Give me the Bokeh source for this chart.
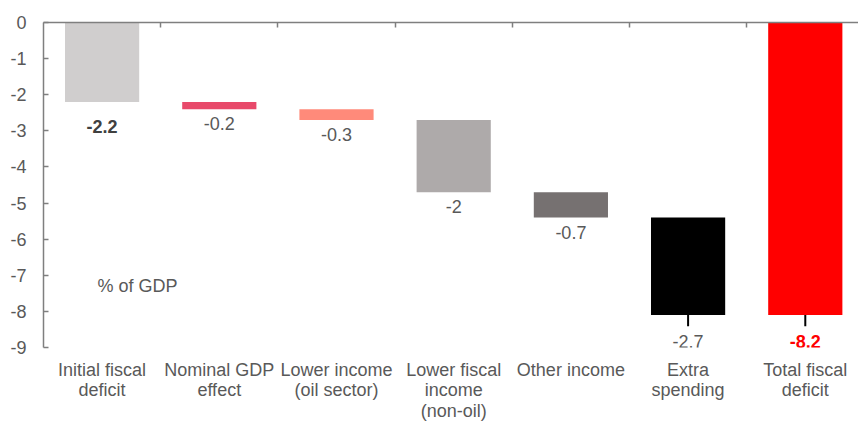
from bokeh.plotting import figure
from bokeh.models import ColumnDataSource, Range1d, FixedTicker, LinearAxis, LabelSet, Label
from bokeh.core.properties import value
from bokeh.embed import file_html
from bokeh.resources import INLINE

# ---- data ----
categories = ["Initial fiscal\ndeficit", "Nominal GDP\neffect", "Lower income\n(oil sector)",
              "Lower fiscal\nincome\n(non-oil)", "Other income", "Extra\nspending", "Total fiscal\ndeficit"]
changes = [-2.2, -0.2, -0.3, -2.0, -0.7, -2.7]          # waterfall steps (% of GDP)
value_labels = ["-2.2", "-0.2", "-0.3", "-2", "-0.7", "-2.7", "-8.2"]
y_ticks = [0, -1, -2, -3, -4, -5, -6, -7, -8, -9]
y_tick_labels = ["0", "-1", "-2", "-3", "-4", "-5", "-6", "-7", "-8", "-9"]
boundary_ticks = [1, 2, 3, 4, 5, 6]

# ---- styles ----
bar_colors = ["#d0cece", "#e8496a", "#ff8a7a", "#aeaaaa", "#767171", "#000000", "#ff0000"]
label_colors = ["#404040", "#595959", "#595959", "#595959", "#595959", "#595959", "#ff0000"]
label_styles = ["bold", "normal", "normal", "normal", "normal", "normal", "bold"]
has_leader = [False, False, False, False, False, True, True]
FONT = "Liberation Sans"
FS = "18px"
TXT = "#595959"
AX = "#7f7f7f"

# ---- derived waterfall geometry ----
tops, bottoms = [], []
running = 0.0
for c in changes:
    tops.append(running)
    running += c
    bottoms.append(running)
tops.append(0.0)
bottoms.append(running)
xs = [i + 0.5 for i in range(len(categories))]
offsets = [-20 if l else (-18 if s == "bold" else -8) for l, s in zip(has_leader, label_styles)]

src = ColumnDataSource(dict(x=xs, top=tops, bottom=bottoms, color=bar_colors,
                            lbl=value_labels, lcol=label_colors, lsty=label_styles,
                            off=offsets))

p = figure(width=858, height=423, x_range=Range1d(0, 6.954), y_range=Range1d(y_ticks[-1], y_ticks[0]),
           output_backend="svg", toolbar_location=None,
           x_axis_location=None, y_axis_location=None,
           min_border_left=43, min_border_right=0, min_border_top=22, min_border_bottom=74)
p.outline_line_color = None
p.xgrid.visible = False
p.ygrid.visible = False

p.vbar(x="x", top="top", bottom="bottom", width=0.633, fill_color="color", line_color=None, source=src)

# leader ticks under the last bars
lx = [x for x, l in zip(xs, has_leader) if l]
ly0 = [b for b, l in zip(bottoms, has_leader) if l]
ly1 = [b - 0.31 for b in ly0]
p.segment(x0=lx, x1=lx, y0=ly0, y1=ly1, line_color="black", line_width=2)

# left value axis
yaxis = LinearAxis(ticker=FixedTicker(ticks=y_ticks))
yaxis.major_label_overrides = {t: s for t, s in zip(y_ticks, y_tick_labels)}
yaxis.major_tick_in = 5
yaxis.major_tick_out = 0
yaxis.minor_tick_line_color = None
yaxis.axis_line_color = AX
yaxis.axis_line_width = 1.5
yaxis.major_tick_line_color = AX
yaxis.major_tick_line_width = 1.5
yaxis.major_label_standoff = 17
yaxis.major_label_text_font = FONT
yaxis.major_label_text_font_size = FS
yaxis.major_label_text_color = TXT
p.add_layout(yaxis, "left")

# category axis line at zero (top) with boundary ticks
top_axis = LinearAxis(ticker=FixedTicker(ticks=boundary_ticks))
top_axis.major_label_overrides = {t: "" for t in boundary_ticks}
top_axis.major_tick_in = 5
top_axis.major_tick_out = 0
top_axis.minor_tick_line_color = None
top_axis.axis_line_color = AX
top_axis.axis_line_width = 1.5
top_axis.major_tick_line_color = AX
top_axis.major_tick_line_width = 1.5
top_axis.major_label_standoff = 0
p.add_layout(top_axis, "above")

# category labels below the plot
cat_axis = LinearAxis(ticker=FixedTicker(ticks=xs))
cat_axis.major_label_overrides = {x: c for x, c in zip(xs, categories)}
cat_axis.axis_line_color = None
cat_axis.major_tick_line_color = None
cat_axis.minor_tick_line_color = None
cat_axis.major_tick_in = 0
cat_axis.major_tick_out = 0
cat_axis.major_label_standoff = 12
cat_axis.major_label_text_font = FONT
cat_axis.major_label_text_font_size = FS
cat_axis.major_label_text_color = TXT
cat_axis.major_label_text_line_height = 1.03
p.add_layout(cat_axis, "below")

# value labels
vl = LabelSet(x="x", y="bottom", text="lbl", source=src, y_offset="off",
              text_align="center", text_baseline="top",
              text_font=value(FONT), text_font_size=value(FS),
              text_color="lcol", text_font_style="lsty")
p.add_layout(vl)

p.add_layout(Label(x=0.461, y=-7.30, text="% of GDP", text_baseline="middle",
                   text_font=FONT, text_font_size=FS, text_color=TXT))

open("out.html", "w").write(file_html(p, INLINE))
